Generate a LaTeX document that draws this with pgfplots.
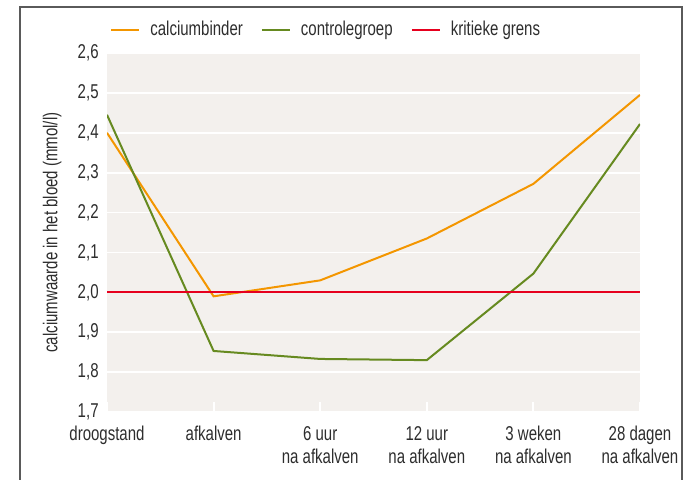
\documentclass[border=0pt]{standalone}
\usepackage{fontspec}
\setmainfont{Liberation Sans}[FakeStretch=0.75]
\usepackage{pgfplots}
\pgfplotsset{compat=1.18}
\definecolor{cOrange}{RGB}{243,150,0}
\definecolor{cGreen}{RGB}{102,138,32}
\definecolor{cRed}{RGB}{230,0,30}
\definecolor{cBg}{RGB}{243,240,237}
\definecolor{cText}{RGB}{45,45,45}
\definecolor{cFrame}{RGB}{90,90,90}
\begin{document}
\begin{tikzpicture}[font=\fontsize{10}{11.5}\selectfont]
\path[use as bounding box] (0pt,0pt) rectangle (349.5pt,240pt);
\draw[color=cFrame, line width=0.7pt] (10pt,-5pt) -- (10pt,236.5pt) -- (341pt,236.5pt) -- (341pt,-5pt);
\begin{axis}[
  at={(53.5pt,34pt)}, anchor=south west,
  scale only axis, width=266.5pt, height=179.5pt,
  xmin=0, xmax=5, ymin=1.7, ymax=2.6,
  axis background/.style={fill=cBg},
  axis line style={draw=none},
  xtick={0,1,2,3,4,5},
  xticklabels={droogstand, afkalven, {6 uur\\na afkalven}, {12 uur\\na afkalven}, {3 weken\\na afkalven}, {28 dagen\\na afkalven}},
  xticklabel style={align=center, anchor=north, inner sep=0pt, yshift=-7pt, text=cText, font=\fontsize{10}{11.5}\selectfont},
  xtick style={white, line width=1pt},
  major tick length=5pt,
  tick pos=bottom,
  ytick={1.7,1.8,1.9,2.0,2.1,2.2,2.3,2.4,2.5,2.6},
  ytick style={draw=none},
  yticklabel style={inner sep=0pt, xshift=-4pt, text=cText, font=\fontsize{10}{11.5}\selectfont,
    /pgf/number format/.cd, fixed, fixed zerofill, precision=1, use comma, assume math mode=true},
  ymajorgrids,
  grid style={white, line width=0.9pt},
  ylabel={calciumwaarde in het bloed (mmol/l)},
  ylabel style={at={(axis description cs:-0.103,0.5)}, anchor=center, text=cText, font=\fontsize{10}{11.5}\selectfont},
  legend columns=-1,
  legend style={at={(axis description cs:0,1)}, anchor=west, xshift=1.5pt, yshift=11.5pt,
    draw=none, fill=none, inner sep=0pt, text=cText, font=\fontsize{10}{11.5}\selectfont,
    nodes={inner sep=0pt},
    /tikz/every odd column/.append style={column sep=5pt},
    /tikz/every even column/.append style={column sep=9pt}},
  legend image code/.code={\draw[#1] (0pt,0pt) -- (14pt,0pt);},
]
\addplot[cOrange, line width=1pt] coordinates {(0,2.40) (1,1.99) (2,2.03) (3,2.135) (4,2.272) (5,2.495)};
\addlegendentry{calciumbinder}
\addplot[cGreen, line width=1pt] coordinates {(0,2.445) (1,1.853) (2,1.833) (3,1.830) (4,2.047) (5,2.422)};
\addlegendentry{controlegroep}
\addplot[cRed, line width=1.1pt] coordinates {(0,2.0) (5,2.0)};
\addlegendentry{kritieke grens}
\end{axis}
\end{tikzpicture}
\end{document}
